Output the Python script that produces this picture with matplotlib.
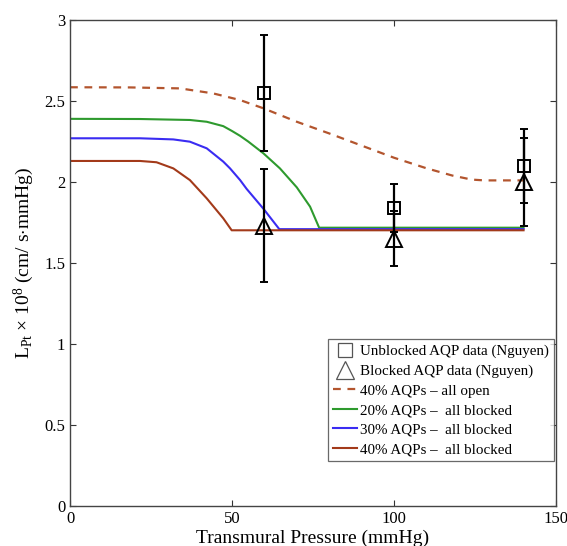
import numpy as np
import matplotlib
matplotlib.use("Agg")
import matplotlib.pyplot as plt

plt.rcParams["font.family"] = ["Liberation Serif", "DejaVu Serif"]
plt.rcParams["mathtext.fontset"] = "custom"
plt.rcParams["mathtext.rm"] = "Liberation Serif"
plt.rcParams["mathtext.it"] = "Liberation Serif:italic"

# =========================
# Nguyen data (pressure, Lp, error)
# =========================
p_data = [60, 100, 140]
unblocked = [2.55, 1.84, 2.10]
unblocked_err = [0.36, 0.15, 0.23]
blocked = [1.73, 1.65, 2.00]
blocked_err = [0.35, 0.17, 0.27]

# =========================
# Model curves
# =========================
open40_x = [0, 18.5, 34, 44.2, 52.5, 59.7, 70, 80, 90, 100, 110, 118, 124, 128, 140]
open40_y = [2.585, 2.584, 2.578, 2.547, 2.506, 2.455, 2.372, 2.30, 2.225, 2.15, 2.085,
            2.04, 2.015, 2.01, 2.01]

blk20_x = [0, 21.6, 37, 42.2, 47.3, 50, 52.5, 55, 59.7, 64.8, 70, 74.1, 76.9, 140]
blk20_y = [2.39, 2.389, 2.383, 2.372, 2.345, 2.315, 2.285, 2.25, 2.177, 2.084, 1.967,
           1.848, 1.718, 1.718]

blk30_x = [0, 21.6, 31.9, 37, 42.2, 47.3, 49.4, 52.5, 54.5, 59.7, 64.6, 140]
blk30_y = [2.27, 2.27, 2.263, 2.249, 2.208, 2.126, 2.084, 2.012, 1.958, 1.835, 1.709, 1.709]

blk40_x = [0, 21.6, 26.7, 31.9, 37, 42.2, 47.3, 49.9, 140]
blk40_y = [2.13, 2.13, 2.122, 2.084, 2.012, 1.899, 1.776, 1.702, 1.702]

fig = plt.figure(figsize=(5.67, 5.46), dpi=100)
ax = fig.add_axes([0.1235, 0.0733, 0.857, 0.890])

ax.plot(open40_x, open40_y, "--", color="#b3552e", lw=1.6, dashes=(3.5, 3),
        label="40% AQPs \u2013 all open")
ax.plot(blk20_x, blk20_y, color="#2e9a2e", lw=1.5, label="20% AQPs \u2013  all blocked")
ax.plot(blk30_x, blk30_y, color="#3a2cf2", lw=1.5, label="30% AQPs \u2013  all blocked")
ax.plot(blk40_x, blk40_y, color="#a33a1a", lw=1.5, label="40% AQPs \u2013  all blocked")

ax.errorbar(p_data, unblocked, yerr=unblocked_err, fmt="none", ecolor="black",
            elinewidth=1.6, capsize=3, capthick=1.4, zorder=4)
ax.errorbar(p_data, blocked, yerr=blocked_err, fmt="none", ecolor="black",
            elinewidth=1.6, capsize=3, capthick=1.4, zorder=4)
ax.plot(p_data, unblocked, "s", ms=9, mfc="none", mec="black", mew=1.4, zorder=5)
ax.plot(p_data, blocked, "^", ms=12, mfc="none", mec="black", mew=1.4, zorder=5)

# legend-only marker handles (lighter grey)
h_sq, = ax.plot([], [], "s", ms=10, mfc="none", mec="#555555", mew=0.9,
                label="Unblocked AQP data (Nguyen)")
h_tr, = ax.plot([], [], "^", ms=13, mfc="none", mec="#555555", mew=0.9,
                label="Blocked AQP data (Nguyen)")

handles, labels = ax.get_legend_handles_labels()
order = [4, 5, 0, 1, 2, 3]
leg = ax.legend([handles[i] for i in order], [labels[i] for i in order],
                loc="lower right", bbox_to_anchor=(0.996, 0.092),
                fontsize=10.8, frameon=True, fancybox=False, edgecolor="#444444",
                handlelength=1.6, handletextpad=0.2, labelspacing=0.4,
                borderpad=0.35, borderaxespad=0.0)
leg.get_frame().set_linewidth(0.9)

ax.set_xlim(0, 150)
ax.set_ylim(0, 3)
ax.set_xticks([0, 50, 100, 150])
ax.set_yticks([0, 0.5, 1, 1.5, 2, 2.5, 3])
ax.set_yticklabels(["0", "0.5", "1", "1.5", "2", "2.5", "3"])
ax.tick_params(direction="in", top=True, right=True, labelsize=12,
               length=4, width=0.8, colors="#333333", labelcolor="black")
for s in ax.spines.values():
    s.set_color("#444444")
    s.set_linewidth(1.0)

ax.set_xlabel("Transmural Pressure (mmHg)", fontsize=14, labelpad=2)
ax.set_ylabel(r"L$_{\mathrm{Pt}}$ $\times$ 10$^{8}$ (cm/ s$\cdot$mmHg)", fontsize=14, labelpad=6)

fig.savefig("out.png", dpi=100)
